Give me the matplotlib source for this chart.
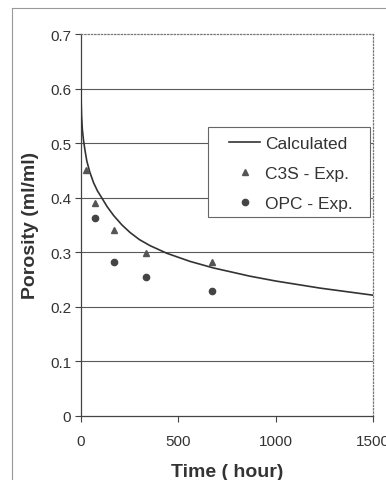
import matplotlib
matplotlib.use("Agg")
import matplotlib.pyplot as plt
from matplotlib.lines import Line2D
from matplotlib.patches import Rectangle

plt.rcParams['font.family'] = ['Liberation Sans', 'DejaVu Sans']

# calculated porosity curve (hour, ml/ml)
calc_time = [0, 1, 3, 7, 13, 20, 30, 45, 65, 85, 106, 135, 168, 210, 252, 300, 354, 440,
             560, 680, 866, 1000, 1228, 1500]
calc_porosity = [0.60, 0.575, 0.55, 0.525, 0.505, 0.488, 0.467, 0.447, 0.427, 0.412, 0.40,
                 0.383, 0.367, 0.350, 0.336, 0.323, 0.312, 0.298, 0.283, 0.271, 0.256,
                 0.247, 0.234, 0.221]

# experiments
c3s_time = [24, 72, 168, 336, 672]
c3s_porosity = [0.451, 0.39, 0.34, 0.298, 0.281]
opc_time = [72, 168, 336, 672]
opc_porosity = [0.363, 0.282, 0.254, 0.228]

x_ticks = [0, 500, 1000, 1500]
y_ticks = [0, 0.1, 0.2, 0.3, 0.4, 0.5, 0.6, 0.7]
y_ticklabels = ['0', '0.1', '0.2', '0.3', '0.4', '0.5', '0.6', '0.7']

fig = plt.figure(figsize=(3.86, 4.81), dpi=100)
ax = fig.add_axes([0.2098, 0.1337, 0.7565, 0.7935])

for y in y_ticks[1:-1]:
    ax.axhline(y, color='#5a5a5a', lw=0.8, zorder=1)

ax.plot(calc_time, calc_porosity, color='#333333', lw=1.2, label='Calculated', zorder=3)
ax.plot(c3s_time, c3s_porosity, ls='none', marker='^', ms=4, color='#555555',
        label='C3S - Exp.', zorder=4)
ax.plot(opc_time, opc_porosity, ls='none', marker='o', ms=4.5, color='#444444',
        label='OPC - Exp.', zorder=4)

ax.set_xlim(0, 1500)
ax.set_ylim(0, 0.7)
ax.set_xticks(x_ticks)
ax.set_yticks(y_ticks)
ax.set_yticklabels(y_ticklabels)
ax.tick_params(direction='out', length=4, width=0.8, color='#444444',
               labelsize=11, labelcolor='#333333', pad=3)
ax.tick_params(axis='x', pad=9)

for side in ['top', 'right']:
    ax.spines[side].set_linestyle(':')
    ax.spines[side].set_color('#777777')
    ax.spines[side].set_linewidth(0.9)
for side in ['left', 'bottom']:
    ax.spines[side].set_color('#444444')
    ax.spines[side].set_linewidth(0.9)

ax.set_xlabel('Time ( hour)', fontsize=14, fontweight='bold', color='#333333', labelpad=11)
ax.set_ylabel('Porosity (ml/ml)', fontsize=14, fontweight='bold', color='#333333', labelpad=8)

# legend box, drawn separately so it can be wider than the entries
ax.add_patch(Rectangle((0.435, 0.52), 0.555, 0.236, transform=ax.transAxes,
                       facecolor='white', edgecolor='#666666', lw=0.8, zorder=5))
leg = ax.legend(loc='upper left', bbox_to_anchor=(0.455, 0.774), fontsize=12.5,
                frameon=False, handlelength=1.75, handletextpad=0.3,
                labelspacing=0.85, borderpad=0.4)
leg.set_zorder(6)
for t in leg.get_texts():
    t.set_color('#333333')

# outer frame of the scanned figure
fig.add_artist(Line2D([0.031, 0.031], [0, 0.981], color='#999999', lw=0.8))
fig.add_artist(Line2D([0.031, 1], [0.981, 0.981], color='#999999', lw=0.8))

fig.savefig('out.png', dpi=100)
